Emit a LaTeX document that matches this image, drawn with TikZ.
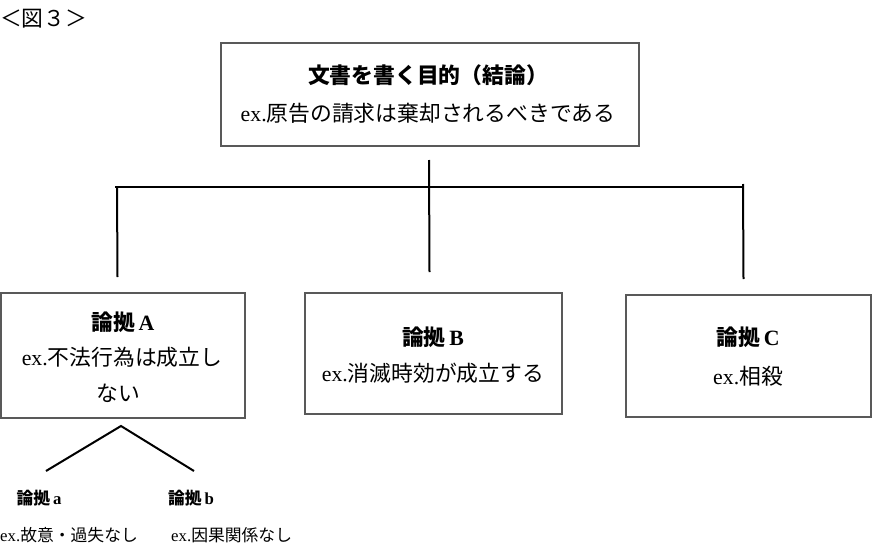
\documentclass[tikz,border=0pt]{standalone}
\usepackage{fontspec}
\setmainfont{Liberation Serif}
\newfontfamily\jp{Noto Sans CJK JP}
\begin{document}
\begin{tikzpicture}[x=1pt,y=-1pt,
  box/.style={draw=black!65, line width=1.4pt, inner sep=0pt, fill=none},
  big/.style={font=\fontsize{21.8}{26}\selectfont, inner sep=0pt},
  small/.style={font=\fontsize{16.8}{20}\selectfont, inner sep=0pt},
  conn/.style={line width=2pt, black}]
\useasboundingbox (0,0) rectangle (886,554);
% caption
\node[big, anchor=west] (cap) at (0,19) {\jp ＜図３＞};
% boxes
\node[box, minimum width=418pt, minimum height=103pt] (top) at (430,94.5) {};
\node[box, minimum width=244pt, minimum height=125pt] (A) at (123,355.5) {};
\node[box, minimum width=257pt, minimum height=121pt] (B) at (433.5,353.5) {};
\node[box, minimum width=245pt, minimum height=122pt] (C) at (748.5,356) {};
% texts
\node[big] (t1) at (428,75) {\jp\bfseries 文書を書く目的（結論）};
\node[big] (t2) at (428,113) {ex.\jp 原告の請求は棄却されるべきである};
\node[big] (a1) at (123,322) {{\jp\bfseries 論拠}\,\textbf{A}};
\node[big] (a2) at (122,357) {ex.\jp 不法行為は成立し};
\node[big] (a3) at (118,393) {\jp ない};
\node[big] (b1) at (433,337) {{\jp\bfseries 論拠}\,\textbf{B}};
\node[big] (b2) at (433,373) {ex.\jp 消滅時効が成立する};
\node[big] (c1) at (748,337) {{\jp\bfseries 論拠}\,\textbf{C}};
\node[big] (c2) at (748,376) {ex.\jp 相殺};
\node[small] (sa) at (39,498) {{\jp\bfseries 論拠}\,\textbf{a}};
\node[small] (sb) at (191,498) {{\jp\bfseries 論拠}\,\textbf{b}};
\node[small, anchor=west] (sa2) at (0,535) {ex.\jp 故意・過失なし};
\node[small, anchor=west] (sb2) at (171,535) {ex.\jp 因果関係なし};
% connector coordinates
\coordinate (hL) at (115,186.5);
\coordinate (hR) at (744,186.5);
\coordinate (vT) at (429,160);
\coordinate (vB) at (429.5,272);
\coordinate (lT) at (117,188);
\coordinate (lB) at (117.5,277);
\coordinate (rT) at (743,184);
\coordinate (rB) at (743.5,279);
\coordinate (apex) at (121,426);
\coordinate (tl) at (46,471);
\coordinate (tr) at (194,471);
\draw[conn] (hL) -- (hR);
\draw[conn] (vT) -- (vB);
\draw[conn] (lT) -- (lB);
\draw[conn] (rT) -- (rB);
\draw[conn] (tl) -- (apex) -- (tr);
\end{tikzpicture}
\end{document}
